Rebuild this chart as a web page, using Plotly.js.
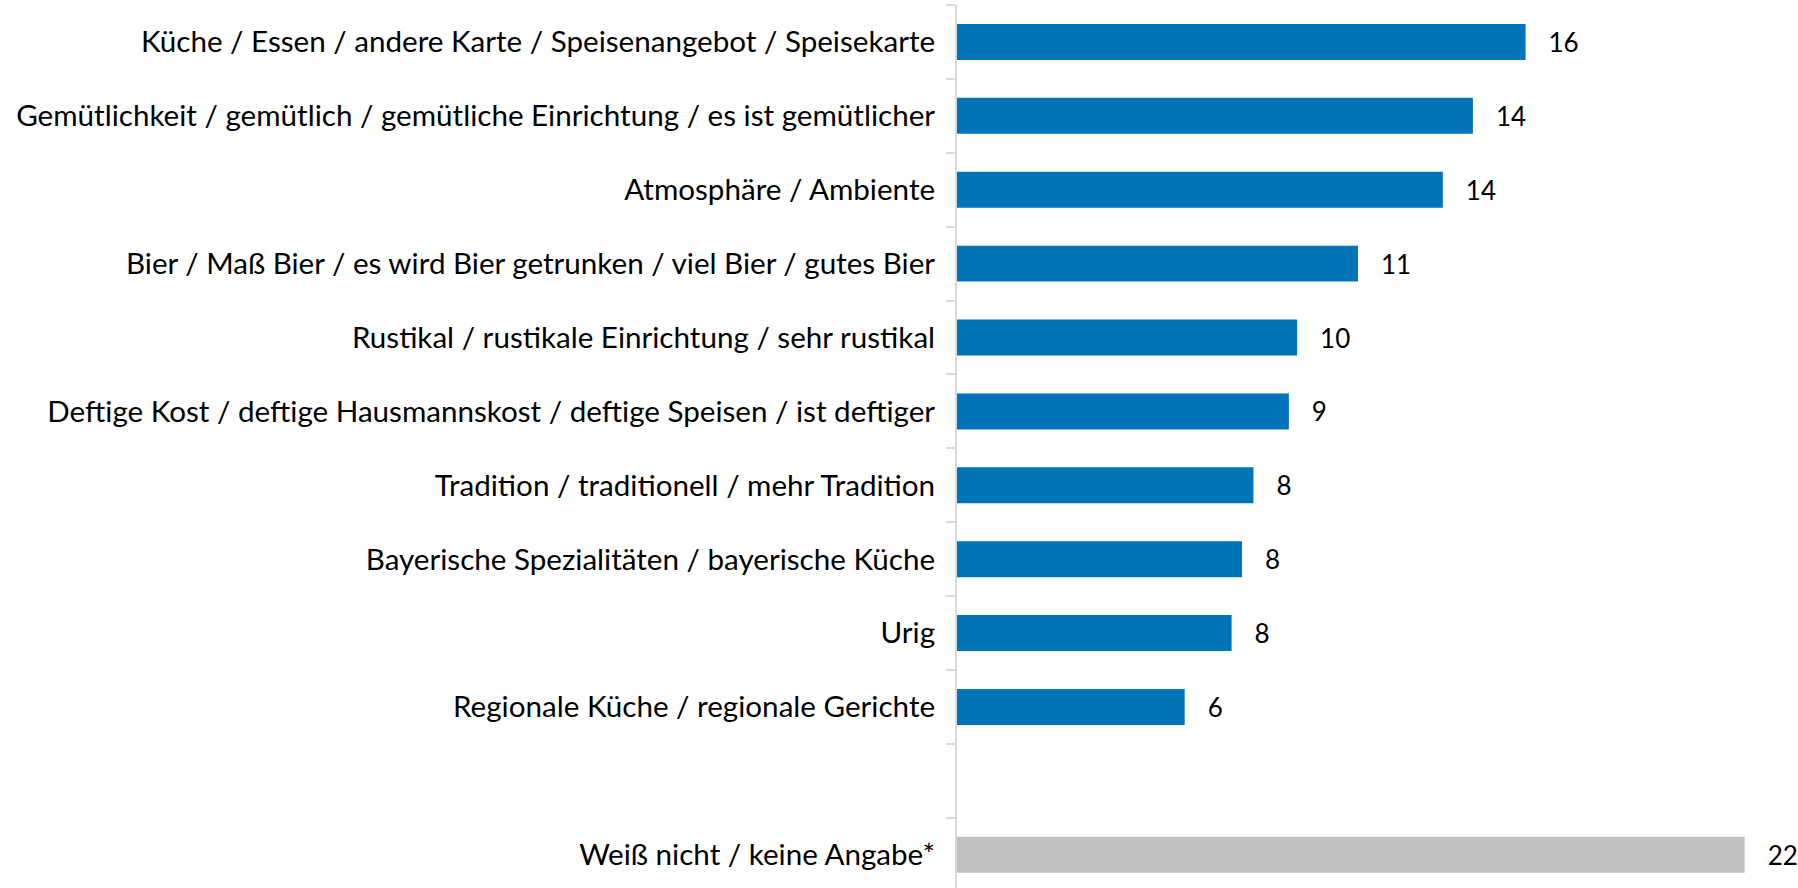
<!DOCTYPE html>
<html>
<head>
<meta charset="utf-8">
<script src="https://cdn.plot.ly/plotly-3.0.1.min.js"></script>
<style>
  html, body { margin: 0; padding: 0; background: #ffffff; }
  #chart { width: 1798px; height: 888px; }
</style>
</head>
<body>
<div id="chart"></div>
<script>
// Categories (top to bottom)
const categories = [
  "Küche / Essen / andere Karte / Speisenangebot / Speisekarte",
  "Gemütlichkeit / gemütlich / gemütliche Einrichtung / es ist gemütlicher",
  "Atmosphäre / Ambiente",
  "Bier / Maß Bier / es wird Bier getrunken / viel Bier / gutes Bier",
  "Rustikal / rustikale Einrichtung / sehr rustikal",
  "Deftige Kost / deftige Hausmannskost / deftige Speisen / ist deftiger",
  "Tradition / traditionell / mehr Tradition",
  "Bayerische Spezialitäten / bayerische Küche",
  "Urig",
  "Regionale Küche / regionale Gerichte"
];
// Bar lengths (percent)
const values = [15.88, 14.41, 13.57, 11.2, 9.5, 9.27, 8.28, 7.96, 7.67, 6.36];
// Printed value labels
const valueLabels = ["16", "14", "14", "11", "10", "9", "8", "8", "8", "6"];

const noAnswerCategory = "Weiß nicht / keine Angabe*";
const noAnswerValue = [22];
const noAnswerLabel = ["22"];

const spacer = " ";
const categoryOrder = categories.concat([spacer, noAnswerCategory]);

const FONT = "Lato, 'Open Sans', sans-serif";
const FS = 29.6;
const VFS = 26;

const pad = "\u00a0\u00a0\u00a0";

const traceMain = {
  type: "bar",
  orientation: "h",
  y: categories,
  x: values,
  text: valueLabels,
  texttemplate: pad + "%{text}",
  textposition: "outside",
  constraintext: "none",
  cliponaxis: false,
  textfont: { family: FONT, size: VFS, color: "#000000" },
  marker: { color: "#0173B8", line: { width: 0 } },
  hoverinfo: "skip",
  showlegend: false
};

const traceNoAnswer = {
  type: "bar",
  orientation: "h",
  y: [noAnswerCategory],
  x: noAnswerValue,
  text: noAnswerLabel,
  texttemplate: pad + "%{text}",
  textposition: "outside",
  constraintext: "none",
  cliponaxis: false,
  textfont: { family: FONT, size: VFS, color: "#000000" },
  marker: { color: "#BFBFBF", line: { width: 0 } },
  hoverinfo: "skip",
  showlegend: false
};

const layout = {
  width: 1798,
  height: 888,
  margin: { l: 957, r: 0, t: 5, b: 0, pad: 0 },
  paper_bgcolor: "#ffffff",
  plot_bgcolor: "#ffffff",
  barmode: "overlay",
  bargap: 0.513,
  font: { family: FONT, size: FS, color: "#000000" },
  xaxis: {
    range: [0, 23.49],
    showgrid: false,
    zeroline: false,
    showline: false,
    showticklabels: false,
    ticks: "",
    fixedrange: true
  },
  yaxis: {
    type: "category",
    categoryorder: "array",
    categoryarray: categoryOrder,
    range: [11.45, -0.5],
    showgrid: false,
    zeroline: false,
    showline: true,
    linecolor: "#D9D9D9",
    linewidth: 2,
    ticks: "outside",
    tickson: "boundaries",
    ticklen: 9,
    tickwidth: 2,
    tickcolor: "#D9D9D9",
    ticklabelstandoff: 14,
    tickfont: { family: FONT, size: FS, color: "#000000" },
    fixedrange: true
  }
};

Plotly.newPlot("chart", [traceMain, traceNoAnswer], layout, { displayModeBar: false, staticPlot: true });
</script>
</body>
</html>
